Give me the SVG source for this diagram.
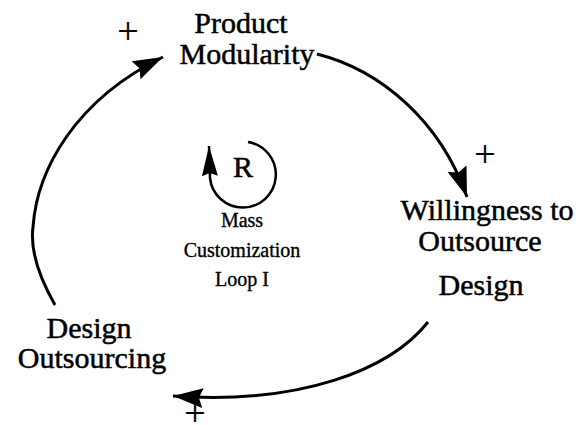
<svg xmlns="http://www.w3.org/2000/svg" width="582" height="425" viewBox="0 0 582 425">
  <defs>
    <marker id="head" markerUnits="userSpaceOnUse" markerWidth="34" markerHeight="26" refX="30" refY="11" orient="auto">
      <path d="M0,1 L30,11 L0,21 L4,11 Z" fill="#000"/>
    </marker>
    <marker id="head-small" markerUnits="userSpaceOnUse" markerWidth="34" markerHeight="24" refX="30" refY="8" orient="auto">
      <path d="M0,0 L30,8 L0,16 L3,8 Z" fill="#000"/>
    </marker>
    <style>
      text { font-family: "Liberation Serif", "Times New Roman", serif; fill: #000; stroke: #000; text-anchor: middle; }
      .lbl { font-size: 30px; stroke-width: 0.5; }
      .sm { font-size: 20px; stroke-width: 0.35; }
      .pol { font-size: 38px; stroke-width: 0.2; }
      .link { fill: none; stroke: #000; stroke-width: 3; }
      .loop { fill: none; stroke: #000; stroke-width: 2.5; }
    </style>
  </defs>

  <!-- causal links -->
  <g id="connectors">
    <path class="link" d="M55,305 C38,275 30,250 33,227 C37,170 75,100 163,57" marker-end="url(#head)"/>
    <path class="link" d="M317,54 C380,70 440,120 467,197" marker-end="url(#head)"/>
    <path class="link" d="M428,322 C390,370 300,405 173,396" marker-end="url(#head)"/>
  </g>

  <!-- polarity signs -->
  <g id="polarities">
    <text class="pol" x="128" y="44">+</text>
    <text class="pol" x="485" y="167">+</text>
    <text class="pol" x="195" y="426">+</text>
  </g>

  <g id="product-modularity">
    <text class="lbl" x="241" y="33">Product</text>
    <text class="lbl" x="247" y="64">Modularity</text>
  </g>

  <g id="willingness-to-outsource-design">
    <text class="lbl" x="487" y="220">Willingness to</text>
    <text class="lbl" x="480" y="251">Outsource</text>
    <text class="lbl" x="481" y="295">Design</text>
  </g>

  <g id="design-outsourcing">
    <text class="lbl" x="89" y="338">Design</text>
    <text class="lbl" x="92" y="368">Outsourcing</text>
  </g>

  <!-- reinforcing loop marker -->
  <g id="loop-r">
    <path class="loop" d="M248,142 A33,33 0 1 1 210,178 L209,146" marker-end="url(#head-small)"/>
    <text class="lbl" x="243" y="177">R</text>
    <text class="sm" x="242" y="227">Mass</text>
    <text class="sm" x="242" y="257">Customization</text>
    <text class="sm" x="242" y="286">Loop I</text>
  </g>
</svg>
